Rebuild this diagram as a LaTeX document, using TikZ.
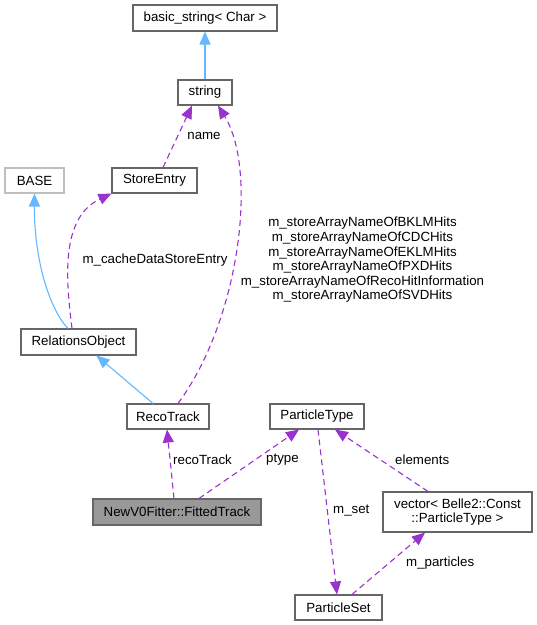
\documentclass[tikz,border=0pt]{standalone}
\usepackage{fontspec}
\setmainfont{Liberation Sans}
\usetikzlibrary{arrows.meta}
\definecolor{edgepurple}{HTML}{9A32CD}
\definecolor{edgeblue}{HTML}{63B8FF}
\definecolor{boxgray}{HTML}{666666}
\definecolor{lightbox}{HTML}{BFBFBF}
\definecolor{fillgray}{HTML}{999999}
\begin{document}
\begin{tikzpicture}[x=1pt,y=-1pt,
  font=\fontsize{13.3}{14.6}\selectfont,
  cls/.style={draw=boxgray,line width=1.1pt,rectangle,inner sep=0pt,align=center,fill=white},
  inh/.style={draw=edgeblue,line width=1.1pt,-{Triangle[length=13pt,width=11pt]},color=edgeblue},
  use/.style={draw=edgepurple,line width=1.1pt,dash pattern=on 6pt off 4pt,-{Triangle[length=13pt,width=11pt]},color=edgepurple},
  lbl/.style={inner sep=0pt,anchor=west,text=black},
]
\useasboundingbox (0,0) rectangle (537,625);
\fill[white] (0,0) rectangle (537,625);

% nodes
\node[cls,minimum width=144pt,minimum height=26pt] (basic) at (205,18) {basic\_string< Char >};
\node[cls,minimum width=54pt,minimum height=25pt] (string) at (205,92.5) {string};
\node[cls,draw=lightbox,minimum width=59pt,minimum height=25pt] (base) at (34.5,180.5) {BASE};
\node[cls,minimum width=85pt,minimum height=25pt] (store) at (154.5,180.5) {StoreEntry};
\node[cls,minimum width=115pt,minimum height=26pt] (rel) at (78.5,342) {RelationsObject};
\node[cls,minimum width=82pt,minimum height=25pt] (reco) at (168,416.5) {RecoTrack};
\node[cls,minimum width=94pt,minimum height=25pt] (ptype) at (317,416.5) {ParticleType};
\node[cls,fill=fillgray,minimum width=168pt,minimum height=26pt] (fitted) at (177,512) {NewV0Fitter::FittedTrack};
\node[cls,minimum width=149pt,minimum height=40pt] (vec) at (457.5,512) {vector< Belle2::Const\\::ParticleType >};
\node[cls,minimum width=87pt,minimum height=25pt] (pset) at (338.5,607.5) {ParticleSet};

% inheritance edges
\draw[inh] (string.north) -- (basic.south);
\draw[inh] ([xshift=-10.5pt]rel.north) .. controls (50,310) and (34,260) .. (base.south);
\draw[inh] ([xshift=-15pt]reco.north) -- ([xshift=18pt]rel.south);

% usage edges
\draw[use] ([xshift=8.5pt]store.north) -- ([xshift=-13pt]string.south);
\node[inner sep=0pt] (lname) at (204,136) {name};

\draw[use] ([xshift=10pt]reco.north) .. controls (240,320) and (258,170) .. ([xshift=13pt]string.south);
\node[inner sep=0pt,align=center] (lstore) at (362.5,260) {m\_storeArrayNameOfBKLMHits\\m\_storeArrayNameOfCDCHits\\m\_storeArrayNameOfEKLMHits\\m\_storeArrayNameOfPXDHits\\m\_storeArrayNameOfRecoHitInformation\\m\_storeArrayNameOfSVDHits};

\draw[use] ([xshift=-6.5pt]rel.north) .. controls (66,280) and (60,218) .. (store.south west);
\node[inner sep=0pt] (lcache) at (155,260) {m\_cacheDataStoreEntry};

\draw[use] ([xshift=-3pt]fitted.north) -- ([xshift=-1pt]reco.south);
\node[lbl] (lreco) at (173,460) {recoTrack};

\draw[use] ([xshift=22pt]fitted.north) -- ([xshift=-18pt]ptype.south);
\node[lbl] (lptype) at (266,460) {ptype};

\draw[use] ([xshift=1pt]ptype.south) -- ([xshift=-1.5pt]pset.north);
\node[lbl] (lmset) at (333,511) {m\_set};

\draw[use] ([xshift=-29.5pt]vec.north) -- ([xshift=18pt]ptype.south);
\node[lbl] (lelem) at (395,460) {elements};

\draw[use] ([xshift=13.5pt]pset.north) -- ([xshift=-32.5pt]vec.south);
\node[lbl] (lmpart) at (406,563) {m\_particles};
\end{tikzpicture}
\end{document}
